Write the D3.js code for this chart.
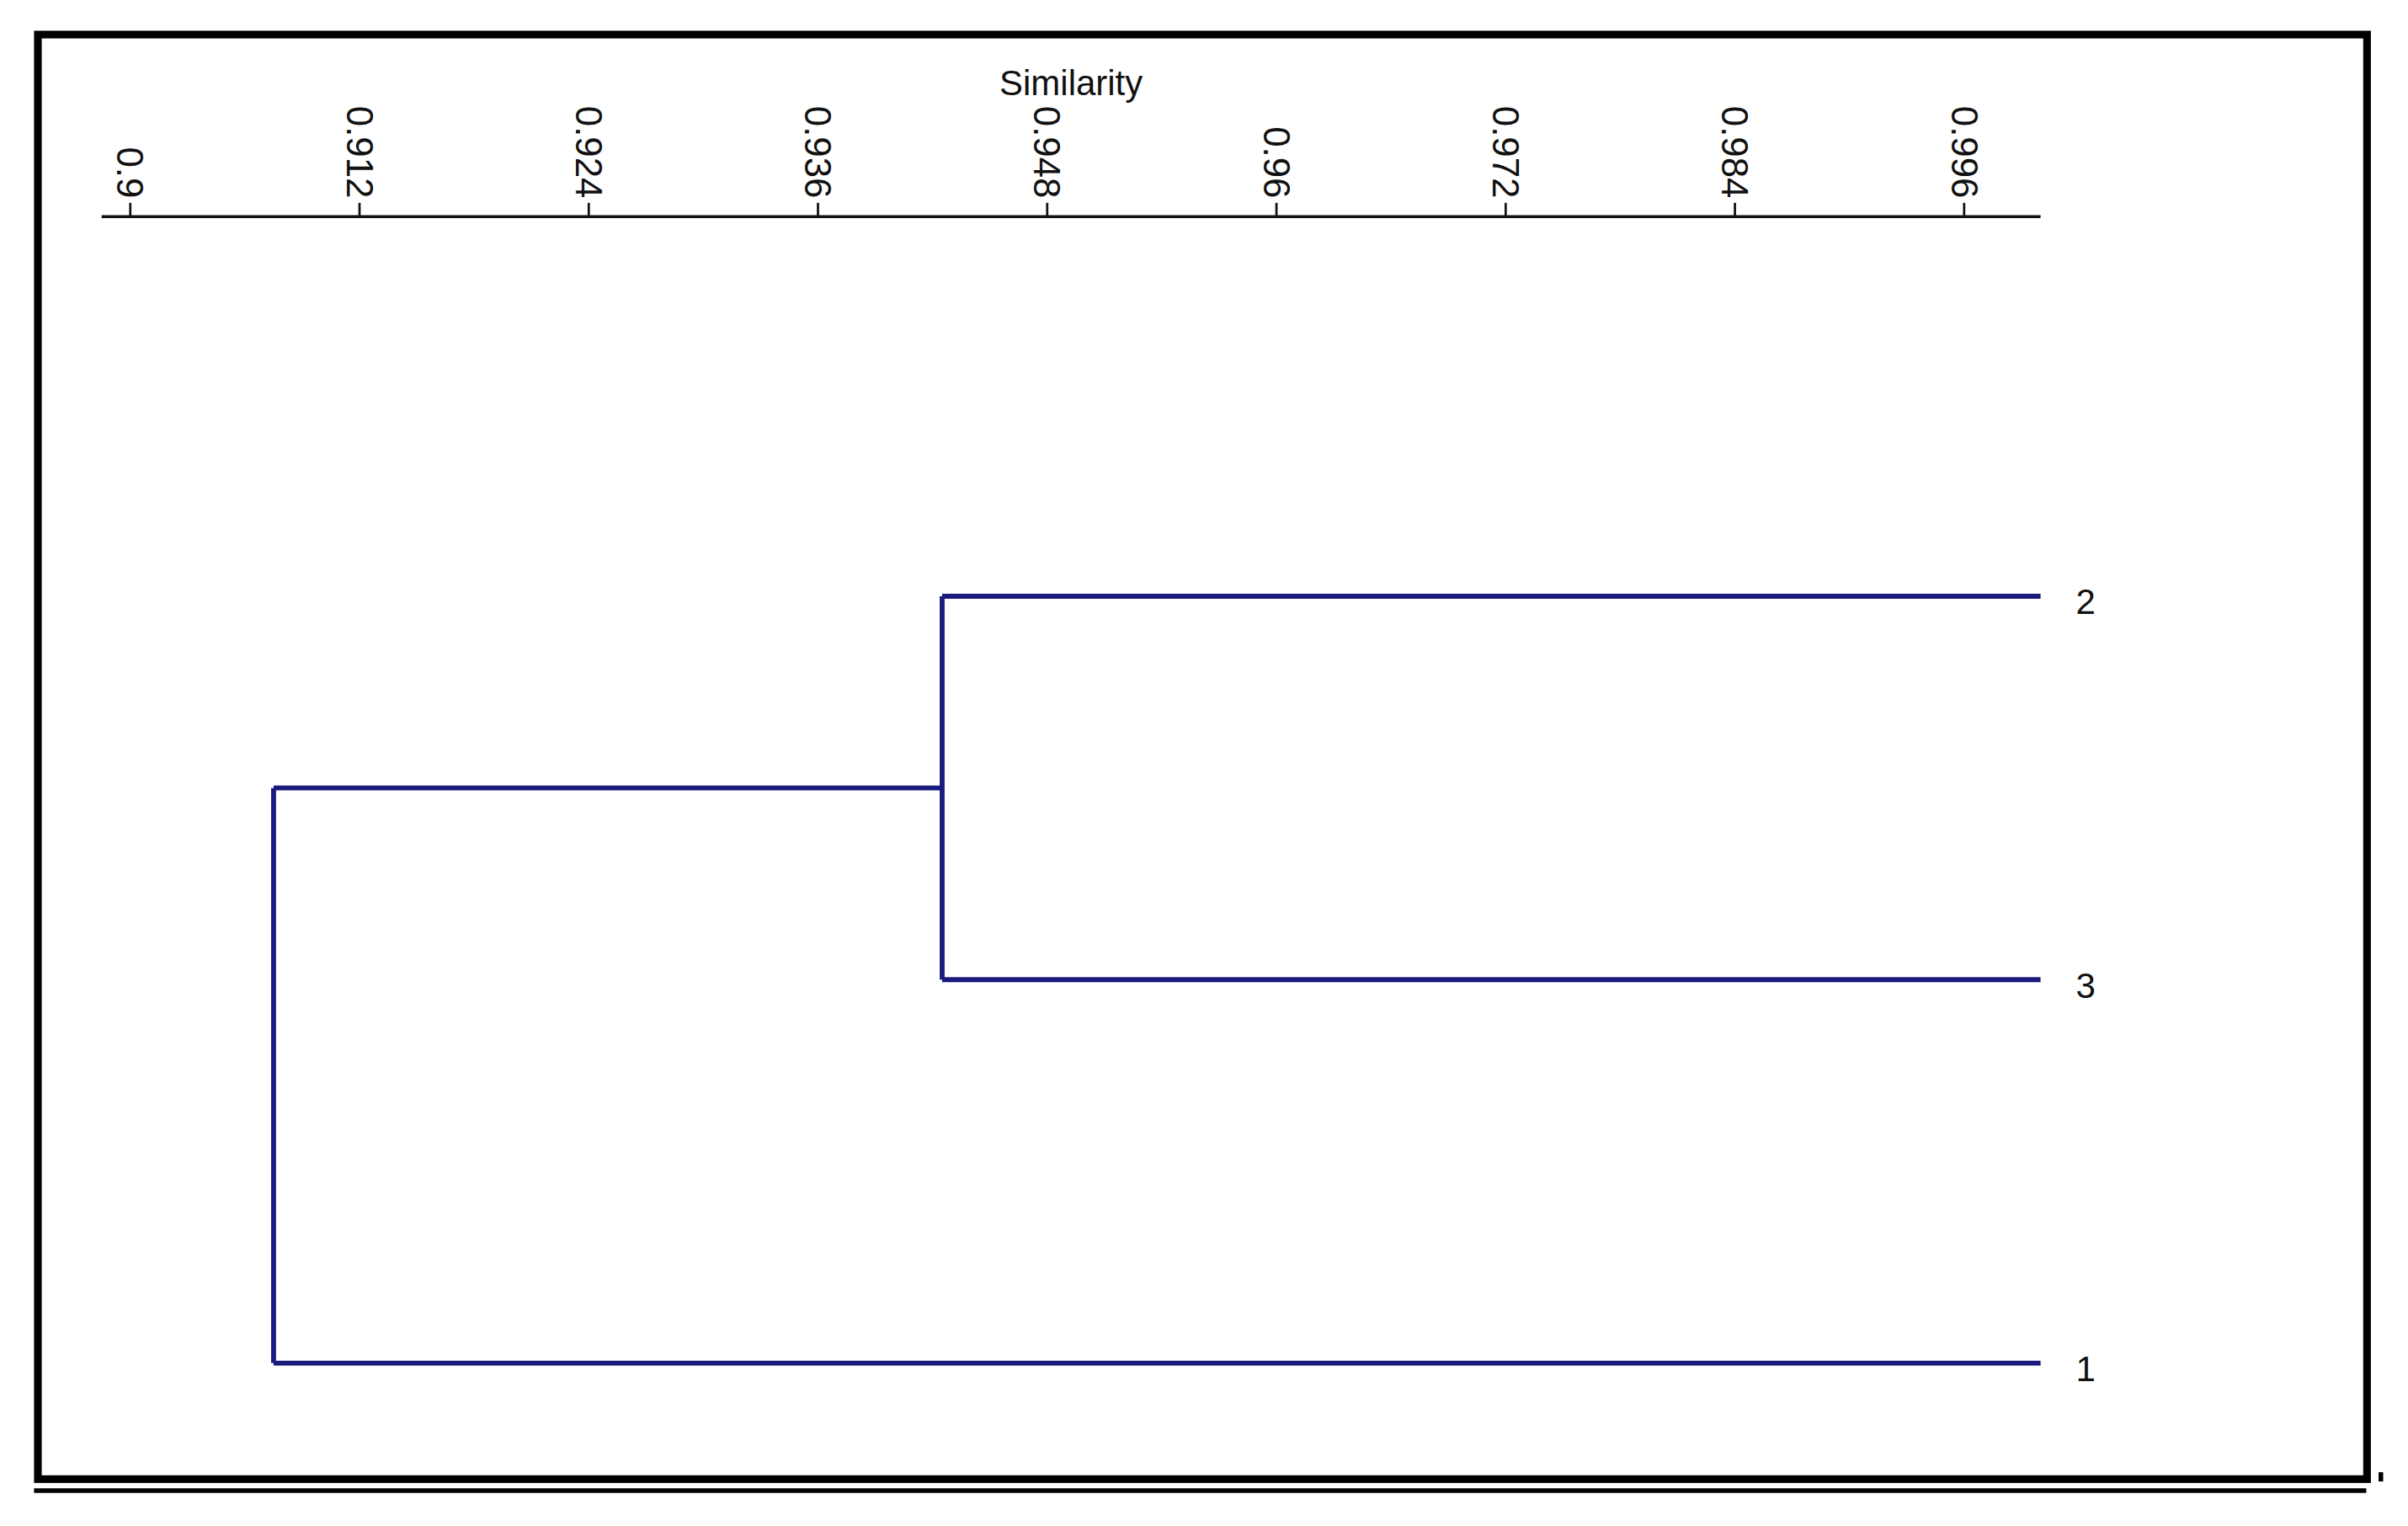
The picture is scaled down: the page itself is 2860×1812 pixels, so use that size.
<!DOCTYPE html>
<html>
<head>
<meta charset="utf-8">
<script src="https://cdn.jsdelivr.net/npm/d3@7"></script>
<style>
  body { margin: 0; background: #fff; }
  svg { display: block; }
  text { font-family: Arial, "Liberation Sans", sans-serif; fill: #111; }
</style>
</head>
<body>
<svg id="chart" width="2860" height="1812" viewBox="0 0 1567 993"></svg>
<script>
// leaf order top to bottom
const leaves = ["2", "3", "1"];
// merges: [left child, right child, similarity]
const merges = [
    { id: "A", children: ["2", "3"], sim: 0.9425 },
    { id: "B", children: ["A", "1"], sim: 0.9075 }
];
const tickValues = [0.9, 0.912, 0.924, 0.936, 0.948, 0.96, 0.972, 0.984, 0.996];
const leafSim = 1.0;

const svg = d3.select("#chart");

// frame
svg.append("rect").attr("x", 24.5).attr("y", 22.5).attr("width", 1516).attr("height", 940)
    .attr("fill", "none").attr("stroke", "#000").attr("stroke-width", 5);
svg.append("line").attr("x1", 22).attr("x2", 1540).attr("y1", 970).attr("y2", 970)
    .attr("stroke", "#000").attr("stroke-width", 3);
svg.append("rect").attr("x", 1548).attr("y", 958).attr("width", 3).attr("height", 6).attr("fill", "#000");

const x = d3.scaleLinear().domain([0.8985, 1.0]).range([66, 1328]);
const y = d3.scalePoint().domain(leaves).range([388, 887]);

// axis on top with ticks pointing up
const axisY = 141;
const axis = svg.append("g").attr("transform", `translate(0,${axisY})`);
axis.append("line").attr("x1", x.range()[0]).attr("x2", x.range()[1])
    .attr("stroke", "#111").attr("stroke-width", 2);
const ticks = axis.selectAll("g.tick").data(tickValues).enter().append("g")
    .attr("transform", d => `translate(${x(d)},0)`);
ticks.append("line").attr("y1", 0).attr("y2", -9).attr("stroke", "#111").attr("stroke-width", 1.5);
ticks.append("text")
    .attr("transform", "translate(0,-12) rotate(90)")
    .attr("text-anchor", "end").attr("dy", "0.35em")
    .style("font-size", "24px")
    .text(d => String(+d.toFixed(3)));

svg.append("text").attr("x", 697).attr("y", 62).attr("text-anchor", "middle")
    .style("font-size", "23px").text("Similarity");

// dendrogram
const pos = {};
leaves.forEach(l => { pos[l] = { x: x(leafSim), y: y(l) }; });
const color = "#1a1a7e";
const g = svg.append("g").attr("stroke", color).attr("stroke-width", 3.2).attr("fill", "none");
merges.forEach(m => {
    const xm = x(m.sim);
    const ys = m.children.map(c => pos[c].y);
    m.children.forEach(c => {
        g.append("line").attr("x1", xm).attr("x2", pos[c].x).attr("y1", pos[c].y).attr("y2", pos[c].y);
    });
    g.append("line").attr("x1", xm).attr("x2", xm).attr("y1", d3.min(ys)).attr("y2", d3.max(ys));
    pos[m.id] = { x: xm, y: d3.mean(ys) };
});

svg.selectAll("text.leaf").data(leaves).enter().append("text")
    .attr("class", "leaf")
    .attr("x", x(leafSim) + 23).attr("y", d => y(d) + 3).attr("dy", "0.38em")
    .style("font-size", "23px").text(d => d);
</script>
</body>
</html>
